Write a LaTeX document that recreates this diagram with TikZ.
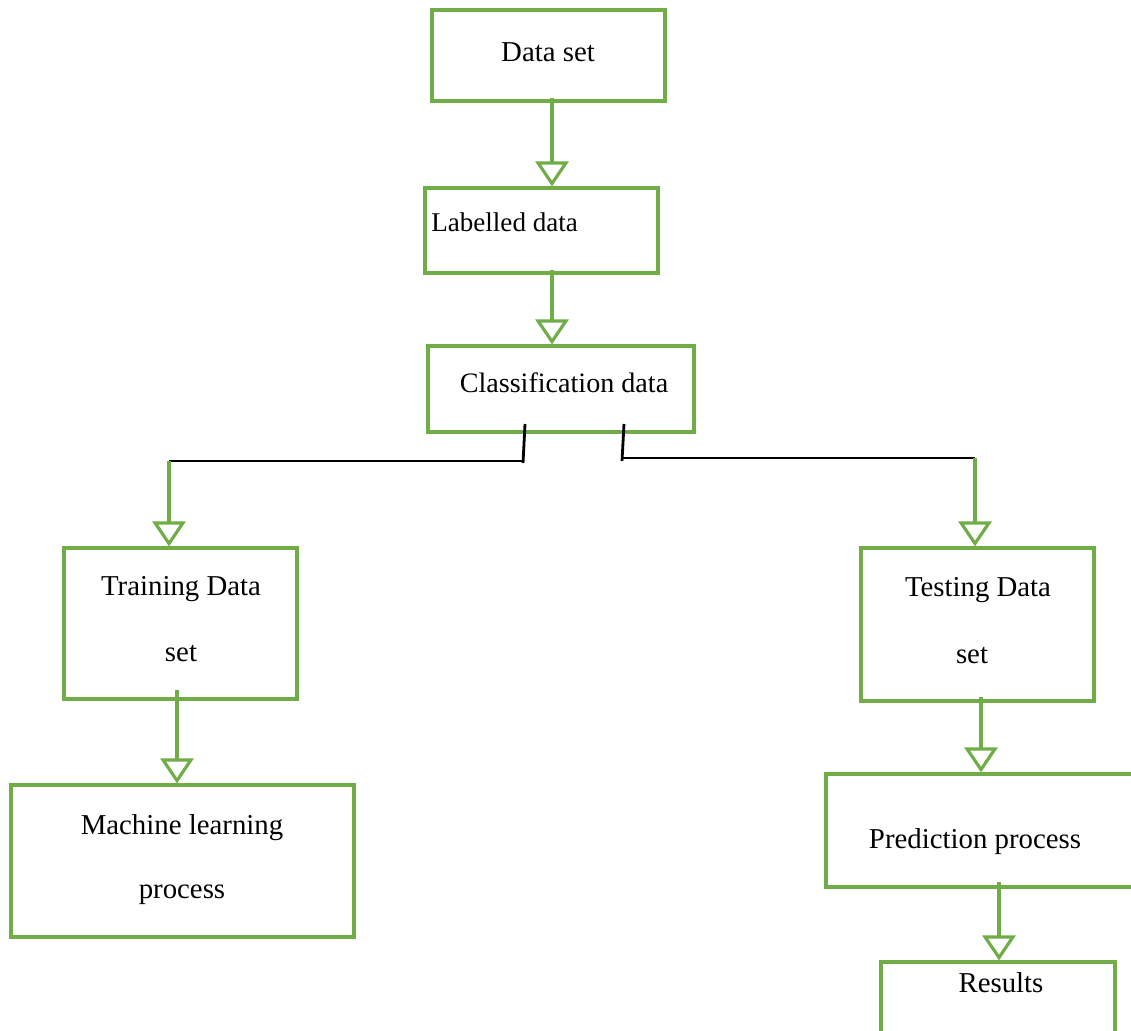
\documentclass[tikz,border=0pt]{standalone}
\usepackage{fontspec}
\setmainfont{Liberation Serif}
\usetikzlibrary{arrows.meta,fit}
\definecolor{grn}{RGB}{112,173,71}
\tikzset{
  box/.style={draw=grn, line width=1.8pt, rectangle, inner sep=0pt},
  lbl/.style={inner sep=0pt, font=\fontsize{16.4}{20}\selectfont, text height=0.68em, text depth=0.2em},
  garrow/.style={draw=grn, line width=1.8pt, -{Triangle[open, width=0.66cm, length=0.5cm]}},
  blk/.style={draw=black, line width=1.6pt},
}
\begin{document}
\begin{tikzpicture}[x=0.02cm, y=-0.02cm]
\useasboundingbox (0,0) rectangle (1131,1030);
% boxes
\node[box, fit={(432,10) (665,101)}] (ds) {};
\node[box, fit={(425,188) (658,273)}] (lab) {};
\node[box, fit={(428,346) (694,432)}] (cls) {};
\node[box, fit={(64,548) (297,699)}] (tr) {};
\node[box, fit={(11,785) (354,937)}] (ml) {};
\node[box, fit={(861,548) (1094,701)}] (te) {};
\node[box, fit={(826,774) (1160,887)}] (pp) {};
\node[box, fit={(881,962) (1115,1060)}] (res) {};
% labels
\node[lbl] (tds) at (548,57) {Data set};
\node[lbl, anchor=west, font=\fontsize{15.4}{19}\selectfont] (tlab) at (431,227) {Labelled data};
\node[lbl, font=\fontsize{16}{20}\selectfont] (tcls) at (564,388) {Classification data};
\node[lbl] (ttr1) at (181,591) {Training Data};
\node[lbl] (ttr2) at (181,657) {set};
\node[lbl] (tml1) at (182,830) {Machine learning};
\node[lbl] (tml2) at (182,894) {process};
\node[lbl] (tte1) at (978,592) {Testing Data};
\node[lbl] (tte2) at (972,659) {set};
\node[lbl] (tpp) at (975,844) {Prediction process};
\node[lbl] (tres) at (1001,988) {Results};
% connector coordinates
\coordinate (a1) at (552,98);
\coordinate (a2) at (552,270);
\coordinate (bl1) at (525,424);
\coordinate (bl2) at (523,463);
\coordinate (jl) at (523,461);
\coordinate (kl) at (169,461);
\coordinate (br1) at (624,424);
\coordinate (br2) at (622,461);
\coordinate (jr) at (622,458);
\coordinate (kr) at (975,458);
\coordinate (a3) at (177,690);
\coordinate (a4) at (981,697);
\coordinate (a5) at (999,882);
% connectors
\draw[garrow] (a1) -- (lab.north -| a1);
\draw[garrow] (a2) -- (cls.north -| a2);
\draw[blk] (bl1) -- (bl2);
\draw[blk] (jl) -- (kl);
\draw[garrow] (kl) -- (tr.north -| kl);
\draw[blk] (br1) -- (br2);
\draw[blk] (jr) -- (kr);
\draw[garrow] (kr) -- (te.north -| kr);
\draw[garrow] (a3) -- (ml.north -| a3);
\draw[garrow] (a4) -- (pp.north -| a4);
\draw[garrow] (a5) -- (res.north -| a5);
\end{tikzpicture}
\end{document}
